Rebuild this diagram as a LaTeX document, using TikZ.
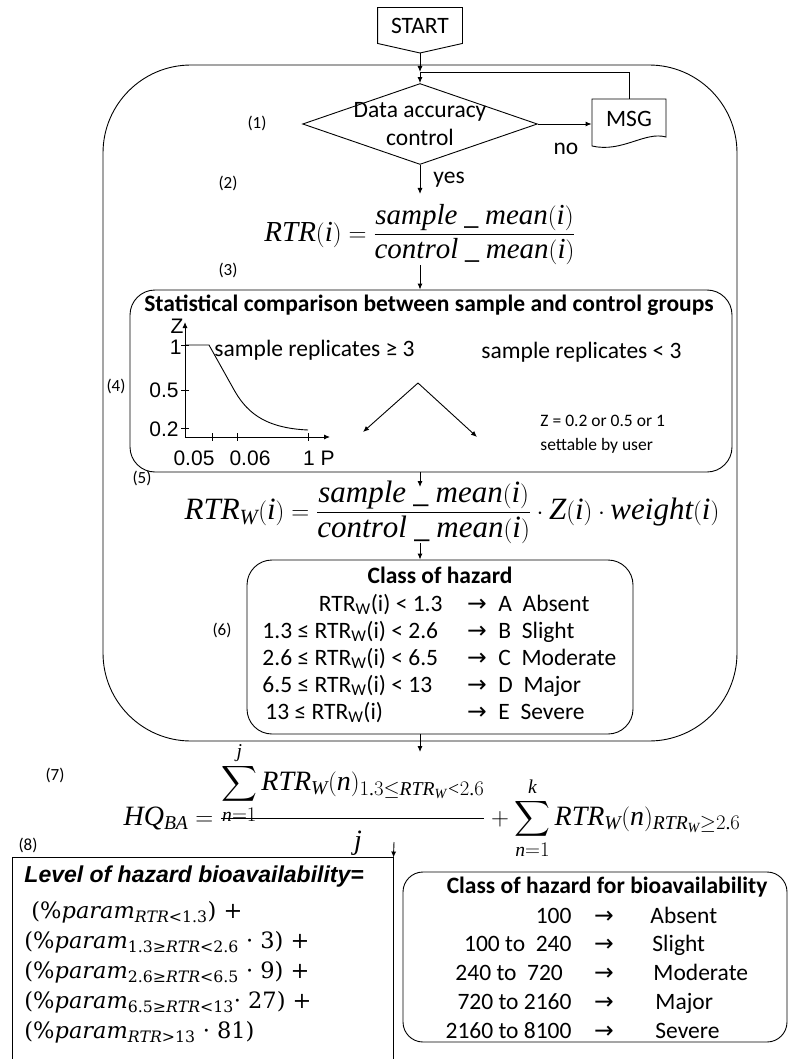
\documentclass[tikz,border=0pt]{standalone}
\usepackage{amsmath}
\usepackage{fontspec}
\setmainfont{Carlito}
\setmathrm{Liberation Serif}
\newfontfamily\tnr[NFSSFamily=tnr]{Liberation Serif}
\newfontfamily\symfont{DejaVu Sans}
\newfontfamily\dvs{DejaVu Serif}
\newfontfamily\arialb{Liberation Sans}
\DeclareSymbolFont{letters}{TU}{tnr}{m}{it}
\DeclareMathSymbol{.}{\mathord}{operators}{"2E}
\usetikzlibrary{arrows.meta,positioning,shapes.geometric,calc}

\begin{document}
\begin{tikzpicture}[x=1pt,y=-1pt,line width=0.9pt,
    >={Latex[length=6pt,width=5pt]},
    txt/.style={font=\fontsize{23.5}{28}\selectfont,inner sep=0pt},
    hdr/.style={font=\fontsize{23.5}{28}\selectfont\bfseries,inner sep=0pt},
    lbl/.style={font=\fontsize{17}{20}\selectfont,inner sep=0pt},
    small/.style={font=\fontsize{17.5}{20}\selectfont,inner sep=0pt},
    axl/.style={font=\arialb\fontsize{21}{24}\selectfont,inner sep=0pt},
    eqn/.style={font=\fontsize{29}{35}\selectfont,inner sep=0pt},
    lvl/.style={font=\dvs\fontsize{22.5}{26}\selectfont,inner sep=0pt,anchor=base west},
    box/.style={draw,inner sep=0pt}]
  \useasboundingbox (0,0) rectangle (789,1059);
  % outer frame
  \node[box,rounded corners=88pt,minimum width=634pt,minimum height=676pt] (frame) at (420,403) {};
  % start
  \node[txt,minimum width=84pt,minimum height=35pt] (start) at (420,25.5) {START};
  \coordinate (starttip) at (420,53);
  \draw (start.south west) -- (start.north west) -- (start.north east) -- (start.south east) -- (starttip) -- cycle;
  \coordinate (join) at (420,72);
  % (1) data check
  \node[diamond,draw,aspect=2.9,txt,inner sep=-3pt,align=center] (check) at (420,124) {Data accuracy\\control};
  \node[txt,minimum width=74pt,minimum height=40pt] (msg) at (629,119) {MSG};
  \draw (592,99) -- (666,99) -- (666,137) .. controls (645,131) and (622,153) .. (592,146) -- cycle;
  \draw[->] (starttip) -- (join);
  \draw[->] (join) -- (check.north);
  \draw[->] (check.east) -- (check.east -| msg.west);
  \draw (msg.north) |- (join);
  \node[txt] (no) at (566,149) {no};
  \coordinate (rtrin) at (420,194);
  \draw[->] (check.south) -- (rtrin) node[midway,right=13pt,txt] (yes) {yes};
  % step labels
  \node[lbl] (s1) at (257,123) {(1)};
  \node[lbl] (s2) at (228,183) {(2)};
  \node[lbl] (s3) at (228,270) {(3)};
  \node[lbl] (s4) at (116,386) {(4)};
  \node[lbl] (s5) at (142,478) {(5)};
  \node[lbl] (s6) at (222,630) {(6)};
  \node[lbl] (s7) at (55,775) {(7)};
  \node[lbl] (s8) at (28,845) {(8)};
  % (2) ratio
  \node[eqn,anchor=base] (rtr) at (420,241) {$RTR(i)=\dfrac{sample\ \_\ mean(i)}{control\ \_\ mean(i)}$};
  % (4) statistical comparison
  \node[box,rounded corners=25pt,minimum width=602pt,minimum height=182pt] (stat) at (431,381) {};
  \draw[->] (rtr.south -| join) -- (stat.north -| join);
  \node[hdr] (stattitle) at (429,305) {Statistical comparison between sample and control groups};
  \coordinate (orig) at (185,437);
  \coordinate (ztop) at (185,322);
  \coordinate (pend) at (330,437);
  \draw[->] (orig) -- (ztop);
  \draw[->] (orig) -- (pend);
  \foreach \y in {345,390,428}
    \draw (181,\y) -- (189,\y);
  \foreach \x in {212,237,308}
    \draw (\x,433) -- (\x,441);
  \node[axl] (zl) at (177,326) {Z};
  \node[axl,anchor=east] (z1) at (182,347) {1};
  \node[axl,anchor=east] (z05) at (179,390) {0.5};
  \node[axl,anchor=east] (z02) at (179,429) {0.2};
  \node[axl] (p005) at (194,458) {0.05};
  \node[axl] (p006) at (250,458) {0.06};
  \node[axl] (p1) at (319,458) {1 P};
  \draw (185,345) -- (209,345) -- (233,388) .. controls (245,410) and (262,428) .. (308,430);
  \node[txt,anchor=west] (repa) at (214,350) {sample replicates ≥ 3};
  \node[txt,anchor=west] (repb) at (481,352) {sample replicates < 3};
  \coordinate (fork) at (418,383);
  \coordinate (forkl) at (363,432);
  \coordinate (forkr) at (477,437);
  \draw[->] (fork) -- (forkl);
  \draw[->] (fork) -- (forkr);
  \node[small,anchor=west] (zset) at (540,421) {Z = 0.2 or 0.5 or 1};
  \node[small,anchor=west] (zuser) at (540,446) {settable by user};
  % (5) weighted ratio
  \coordinate (wtop) at (420,487);
  \draw[->] (stat.south -| join) -- (wtop);
  \node[eqn,font=\fontsize{31}{36}\selectfont,anchor=base] (rtrw) at (452,519) {$RTR_W(i)=\dfrac{sample\ \_\ mean(i)}{control\ \_\ mean(i)}\cdot Z(i)\cdot weight(i)$};
  % (6) class of hazard
  \node[box,rounded corners=25pt,minimum width=386pt,minimum height=174pt] (cls) at (440,647) {};
  \coordinate (wbot) at (420,543);
  \draw[->] (wbot) -- (cls.north -| wbot);
  \node[hdr] (clstitle) at (440,575) {Class of hazard};
  \node[txt,anchor=base east] (r1) at (443,611) {RTR\textsubscript{W}(i) < 1.3};
  \node[txt,anchor=base west] (r2) at (262,638) {1.3 ≤ RTR\textsubscript{W}(i) < 2.6};
  \node[txt,anchor=base west] (r3) at (262,665) {2.6 ≤ RTR\textsubscript{W}(i) < 6.5};
  \node[txt,anchor=base west] (r4) at (262,692) {6.5 ≤ RTR\textsubscript{W}(i) < 13};
  \node[txt,anchor=base west] (r5) at (265,719) {13 ≤ RTR\textsubscript{W}(i)};
  \foreach \y/\c [count=\i] in {611/A\ \ Absent,638/B\ \ Slight,665/C\ \ Moderate,692/D\ \ Major,719/E\ \ Severe}{
    \node[txt,anchor=base] (ca\i) at (477,\y) {\symfont →};
    \node[txt,anchor=base west] (cc\i) at (498,\y) {\c};
  }
  % (7) hazard quotient
  \coordinate (hqin) at (420,752);
  \draw[->] (cls.south -| join) -- (hqin);
  \node[eqn,font=\fontsize{28}{34}\selectfont,anchor=base] (hq) at (432,825) {$\displaystyle HQ_{BA}=\tfrac{\raisebox{0pt}[\height][\dimexpr\depth-7pt\relax]{$\displaystyle\sum_{n=1}^{j}RTR_W(n)_{1.3\le RTR_W<2.6}$}}{\hbox{\hspace{10pt}\lower16pt\hbox{$j$}}}+\sum_{n=1}^{k}RTR_W(n)_{RTR_W\ge 2.6}$};
  % (8) level of bioavailability
  \node[inner sep=0pt,minimum width=380pt,minimum height=201pt] (level) at (203,958.5) {};
  \draw (level.south west) |- (level.north east) -- (level.south east);
  \coordinate (hqout) at (394,842);
  \draw[->] (hqout) -- (level.north east);
  \node[font=\arialb\fontsize{23}{27}\selectfont\bfseries\itshape,inner sep=0pt,anchor=west] (leveltitle) at (24,877) {Level of hazard bioavailability=};
  \node[lvl] (l1) at (31,918) {(\%\textit{param}\textsubscript{\textit{RTR}<1.3}) +};
  \node[lvl] (l2) at (24,948) {(\%\textit{param}\textsubscript{1.3≥\textit{RTR}<2.6} · 3) +};
  \node[lvl] (l3) at (24,978) {(\%\textit{param}\textsubscript{2.6≥\textit{RTR}<6.5} · 9) +};
  \node[lvl] (l4) at (24,1008) {(\%\textit{param}\textsubscript{6.5≥\textit{RTR}<13}· 27) +};
  \node[lvl] (l5) at (24,1038) {(\%\textit{param}\textsubscript{\textit{RTR}>13} · 81)};
  % class of hazard for bioavailability
  \node[box,rounded corners=20pt,minimum width=384pt,minimum height=170pt] (bio) at (595,957) {};
  \node[hdr] (biotitle) at (607,887) {Class of hazard for bioavailability};
  \node[txt,anchor=base east] (b1) at (572,923) {100};
  \node[txt,anchor=base east] (b2) at (572,951) {100 to \ 240};
  \node[txt,anchor=base west] (b3) at (455,980) {240 to \ 720};
  \node[txt,anchor=base east] (b4) at (572,1009) {720 to 2160};
  \node[txt,anchor=base east] (b5) at (572,1038) {2160 to 8100};
  \foreach \y/\c/\xx [count=\i] in {923/Absent/650,951/Slight/652,980/Moderate/653,1009/Major/655,1038/Severe/655}{
    \node[txt,anchor=base] (ba\i) at (604,\y) {\symfont →};
    \node[txt,anchor=base west] (bc\i) at (\xx,\y) {\c};
  }
\end{tikzpicture}
\end{document}
